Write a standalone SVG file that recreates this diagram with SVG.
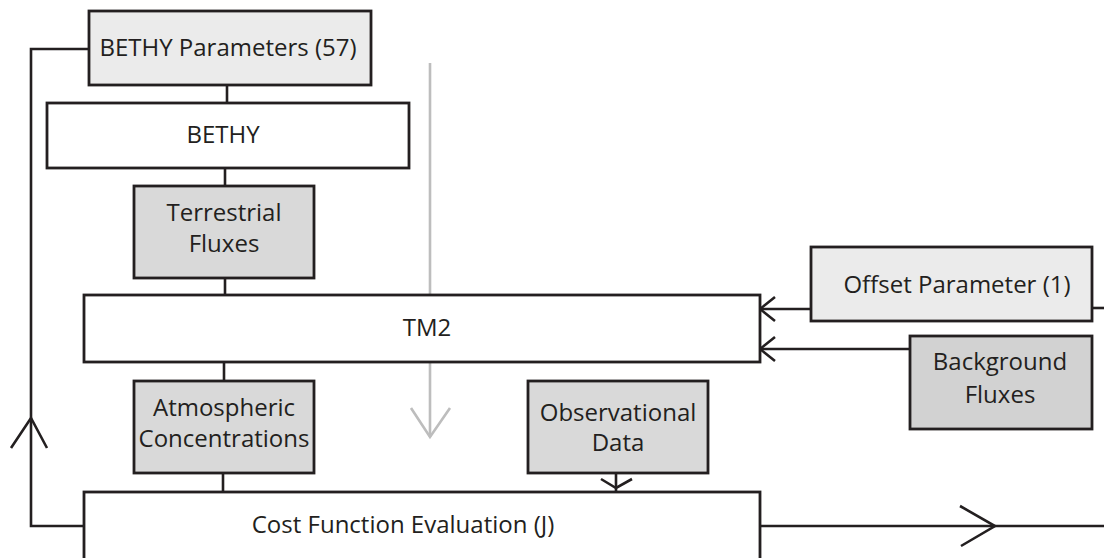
<svg xmlns="http://www.w3.org/2000/svg" width="1104" height="558" viewBox="0 0 1104 558">
<style>
.box{stroke:#231f20;stroke-width:2.8}
.light{fill:#ebebeb}
.mid{fill:#d9d9d9}
.dark{fill:#d2d2d2}
.white{fill:#ffffff}
.lbl{font-family:"Open Sans","Noto Sans",sans-serif;font-size:24px;fill:#231f20;text-anchor:middle}
.ln{fill:none;stroke:#231f20;stroke-width:2.6}
.grey{fill:none;stroke:#bdbdbd;stroke-width:2.6}
</style>
<rect width="1104" height="558" fill="#ffffff"/>
<g id="flow-arrow">
<line class="grey" x1="430" y1="63" x2="430" y2="437"/>
<polyline class="grey" points="411,408 430,437 450,408"/>
</g>
<g id="connectors">
<polyline class="ln" points="89,49 31,49 31,526 84,526"/>
<polyline class="ln" points="11,448 31,418 47,448"/>
<line class="ln" x1="227" y1="85" x2="227" y2="103"/>
<line class="ln" x1="225" y1="168" x2="225" y2="186"/>
<line class="ln" x1="225" y1="278" x2="225" y2="295"/>
<line class="ln" x1="224" y1="362" x2="224" y2="381"/>
<line class="ln" x1="223" y1="473" x2="223" y2="492"/>
<line class="ln" x1="811" y1="309" x2="760" y2="309"/>
<polyline class="ln" points="775,297 760,309 775,321"/>
<line class="ln" x1="910" y1="349" x2="760" y2="349"/>
<polyline class="ln" points="775,337 760,349 775,361"/>
<line class="ln" x1="1092" y1="308" x2="1104" y2="308"/>
<line class="ln" x1="616" y1="473" x2="616" y2="492"/>
<polyline class="ln" points="601,479 616,488 632,479"/>
<line class="ln" x1="760" y1="526" x2="1104" y2="526"/>
<polyline class="ln" points="960,506 995,526 961,546"/>
</g>
<g id="bethy-parameters">
<rect class="box light" x="89" y="11" width="282" height="74"/>
<text class="lbl" x="228" y="56">BETHY Parameters (57)</text>
</g>
<g id="bethy">
<rect class="box white" x="47" y="103" width="362" height="65"/>
<text class="lbl" x="223" y="143">BETHY</text>
</g>
<g id="terrestrial-fluxes">
<rect class="box mid" x="134" y="186" width="180" height="92"/>
<text class="lbl" x="224" y="221">Terrestrial</text>
<text class="lbl" x="224" y="252">Fluxes</text>
</g>
<g id="tm2">
<rect class="box white" x="84" y="295" width="676" height="67"/>
<text class="lbl" x="427" y="336">TM2</text>
</g>
<g id="offset-parameter">
<rect class="box light" x="811" y="247" width="281" height="74"/>
<text class="lbl" x="957" y="293">Offset Parameter (1)</text>
</g>
<g id="background-fluxes">
<rect class="box dark" x="910" y="336" width="182" height="93"/>
<text class="lbl" x="1000" y="370">Background</text>
<text class="lbl" x="1000" y="403">Fluxes</text>
</g>
<g id="atmospheric-concentrations">
<rect class="box mid" x="134" y="381" width="180" height="92"/>
<text class="lbl" x="224" y="416">Atmospheric</text>
<text class="lbl" x="224" y="447">Concentrations</text>
</g>
<g id="observational-data">
<rect class="box mid" x="528" y="381" width="180" height="92"/>
<text class="lbl" x="618" y="421">Observational</text>
<text class="lbl" x="618" y="451">Data</text>
</g>
<g id="cost-function">
<rect class="box white" x="84" y="492" width="676" height="80"/>
<text class="lbl" x="403" y="533">Cost Function Evaluation (J)</text>
</g>
</svg>
